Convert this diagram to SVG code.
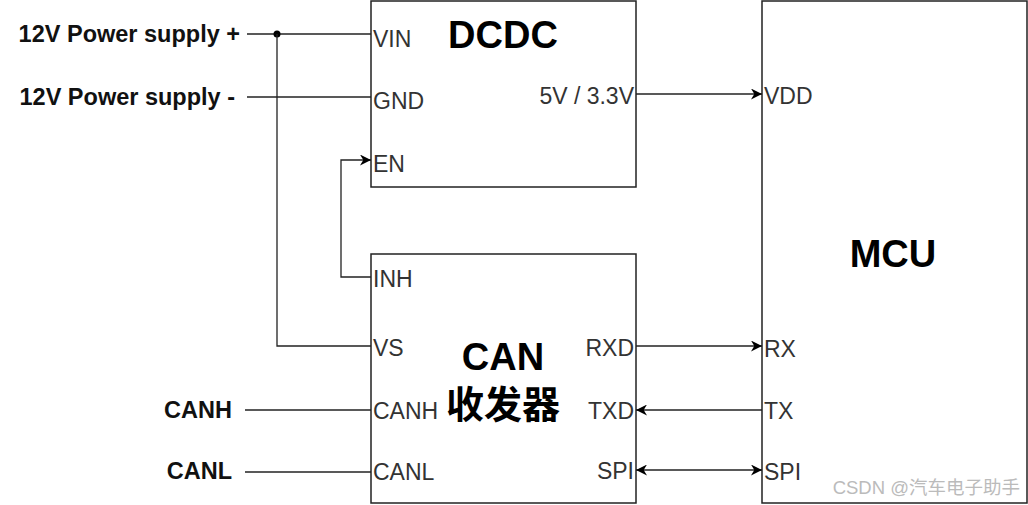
<svg xmlns="http://www.w3.org/2000/svg" width="1028" height="505" viewBox="0 0 1028 505">
<defs>
<marker id="arr" viewBox="0 0 10 10" refX="10" refY="5" markerWidth="11" markerHeight="11" markerUnits="userSpaceOnUse" orient="auto-start-reverse">
<path d="M0,0 L10,5 L0,10 L3,5 Z" fill="#000"/>
</marker>
</defs>
<style>
.box{fill:#fff;stroke:#222;stroke-width:1.5}
.w{fill:none;stroke:#222;stroke-width:1.3}
.pin{font-family:"Liberation Sans",Arial,sans-serif;font-size:23px;fill:#333;dominant-baseline:central}
.lbl{font-family:"Liberation Sans",Arial,sans-serif;font-size:23.5px;font-weight:bold;fill:#111;dominant-baseline:central}
.title{font-family:"Liberation Sans","Noto Sans CJK SC",sans-serif;font-size:38px;font-weight:bold;fill:#000;text-anchor:middle;dominant-baseline:central}
</style>
<rect width="1028" height="505" fill="#fff"/>
<g id="dcdc">
<rect class="box" x="371" y="1" width="265" height="186"/>
<text class="title" x="503" y="35">DCDC</text>
<text class="pin" x="373" y="39">VIN</text>
<text class="pin" x="373" y="101">GND</text>
<text class="pin" x="373" y="164">EN</text>
<text class="pin" x="634" y="96" text-anchor="end">5V / 3.3V</text>
</g>
<g id="can">
<rect class="box" x="371" y="254" width="265" height="249"/>
<text class="title" x="503" y="357">CAN</text>
<text class="title" x="503" y="405" font-family="'Noto Sans CJK SC',sans-serif">收发器</text>
<text class="pin" x="373" y="279">INH</text>
<text class="pin" x="373" y="348">VS</text>
<text class="pin" x="373" y="411">CANH</text>
<text class="pin" x="373" y="472">CANL</text>
<text class="pin" x="634" y="348" text-anchor="end">RXD</text>
<text class="pin" x="634" y="411" text-anchor="end">TXD</text>
<text class="pin" x="634" y="471" text-anchor="end">SPI</text>
</g>
<g id="mcu">
<rect class="box" x="762" y="1" width="265" height="502"/>
<text class="title" x="893" y="254">MCU</text>
<text class="pin" x="764" y="96">VDD</text>
<text class="pin" x="764" y="349">RX</text>
<text class="pin" x="764" y="411">TX</text>
<text class="pin" x="764" y="472">SPI</text>
</g>
<g id="ext">
<text class="lbl" x="240" y="34" text-anchor="end">12V Power supply +</text>
<text class="lbl" x="235" y="97" text-anchor="end">12V Power supply -</text>
<text class="lbl" x="232" y="410" text-anchor="end">CANH</text>
<text class="lbl" x="232" y="471" text-anchor="end">CANL</text>
</g>
<g id="connectors">
<path class="w" d="M247,34 H371"/>
<circle cx="277" cy="34" r="3.5" fill="#000"/>
<path class="w" d="M247,97 H371"/>
<path class="w" d="M277,34 V346 H371"/>
<path class="w" d="M371,277 H341 V160 H371" marker-end="url(#arr)"/>
<path class="w" d="M245,410 H371"/>
<path class="w" d="M245,472 H371"/>
<path class="w" d="M636,94 H762" marker-end="url(#arr)"/>
<path class="w" d="M636,346 H762" marker-end="url(#arr)"/>
<path class="w" d="M762,410 H636" marker-end="url(#arr)"/>
<path class="w" d="M636,470 H762" marker-start="url(#arr)" marker-end="url(#arr)"/>
</g>
<text x="1020" y="494" text-anchor="end" font-family="'Liberation Sans','Noto Sans CJK SC',sans-serif" font-size="18.5" fill="#bbb">CSDN @汽车电子助手</text>
</svg>
